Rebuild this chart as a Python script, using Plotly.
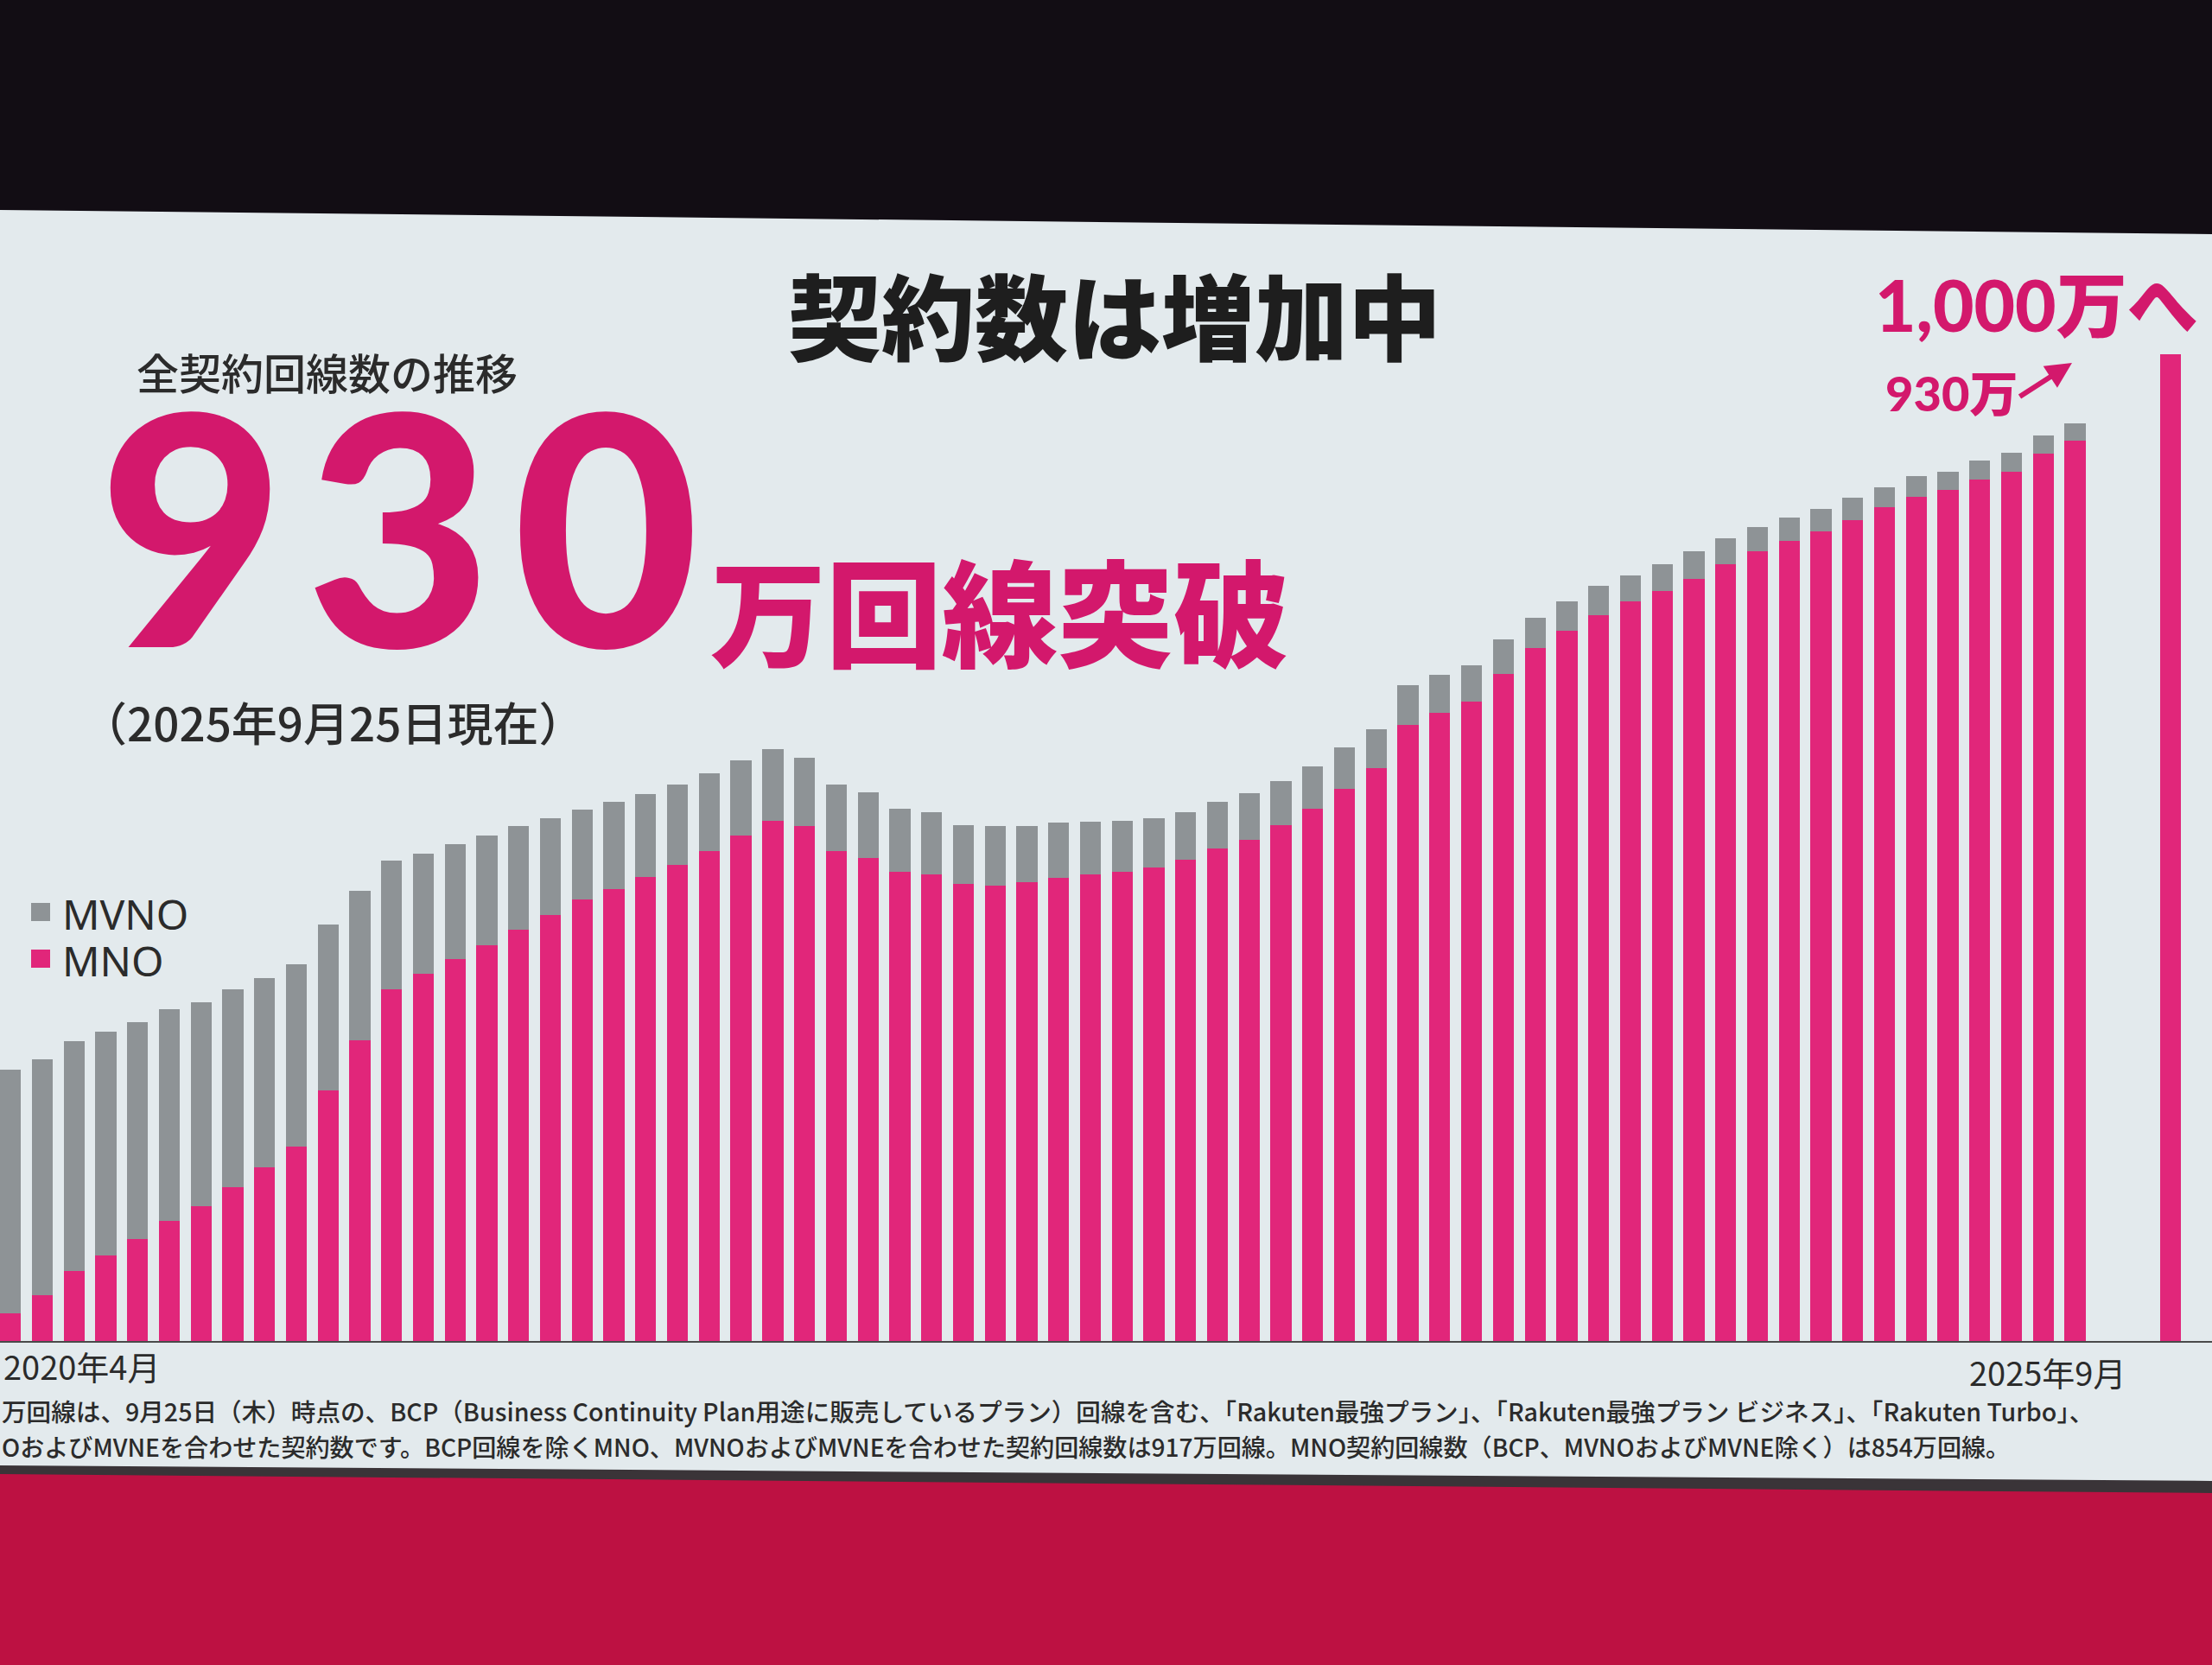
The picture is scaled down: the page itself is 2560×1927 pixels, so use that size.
import plotly.graph_objects as go
import pandas as pd

# ---------------- data (万回線) ----------------
months = [f"{p.year}年{p.month}月" for p in pd.period_range("2020-04", "2025-09", freq="M")]

mno = [28, 46, 71, 87, 103, 122, 137, 156, 176, 197,
       254, 305, 356, 372, 387, 401, 417, 432, 447, 458,
       470, 482, 496, 512, 527, 522, 496, 489, 475, 473,
       463, 461, 465, 469, 473, 475, 480, 488, 499, 508,
       523, 539, 559, 580, 624, 636, 648, 676, 702, 720,
       735, 749, 760, 772, 787, 800, 811, 820, 832, 845,
       855, 862, 873, 881, 899, 912]

mvno = [247, 239, 233, 226, 220, 214, 206, 200, 192, 185,
        168, 151, 131, 122, 116, 111, 105, 98, 91, 88,
        84, 82, 79, 76, 73, 69, 68, 67, 64, 63,
        60, 61, 57, 56, 53, 52, 50, 48, 47, 47,
        44, 43, 42, 40, 40, 39, 37, 35, 31, 29,
        30, 27, 27, 28, 26, 25, 23, 23, 22, 20,
        21, 19, 19, 19, 18, 18]

spacer_cats = ["_gap1", "_gap2"]
target_cat = ["目標"]
target_value = [1000]

category_order = months + spacer_cats + target_cat

# ---------------- styling ----------------
W, H = 2560, 1927
PINK = "#e1267a"
GRAY = "#8e9396"
TXT_PINK = "#d3186c"
DARK = "#2b2b2b"
SLIDE = "#e3eaed"

def px(x):
    return x / W

def py(y):
    return 1 - y / H

fig = go.Figure()

fig.add_trace(go.Bar(x=months, y=mno, name="MNO", marker=dict(color=PINK, line=dict(width=0))))
fig.add_trace(go.Bar(x=months, y=mvno, name="MVNO", marker=dict(color=GRAY, line=dict(width=0))))
fig.add_trace(go.Bar(x=target_cat, y=target_value, name="目標", marker=dict(color=PINK, line=dict(width=0))))

shapes = [
    # dark band under slide edge
    dict(type="path", xref="paper", yref="paper", layer="below",
         path=f"M 0 {py(1690)} L 1 {py(1712)} L 1 {py(1730)} L 0 {py(1708)} Z",
         fillcolor="#3a3438", line=dict(width=0)),
    # red stage
    dict(type="path", xref="paper", yref="paper", layer="below",
         path=f"M 0 {py(1706)} L 1 {py(1728)} L 1 0 L 0 0 Z",
         fillcolor="#bd1142", line=dict(width=0)),
    # slide
    dict(type="path", xref="paper", yref="paper", layer="below",
         path=f"M 0 {py(243)} L 1 {py(271)} L 1 {py(1714)} L 0 {py(1696)} Z",
         fillcolor=SLIDE, line=dict(width=0)),
    # legend swatches
    dict(type="rect", xref="paper", yref="paper", layer="above",
         x0=px(36), x1=px(58), y0=py(1066), y1=py(1045), fillcolor=GRAY, line=dict(width=0)),
    dict(type="rect", xref="paper", yref="paper", layer="above",
         x0=px(36), x1=px(58), y0=py(1120), y1=py(1099), fillcolor=PINK, line=dict(width=0)),
]

JP = "Noto Sans CJK JP"
NUM = "Lato, Noto Sans CJK JP"

ann = [
    dict(text="契約数は増加中", x=px(1290), y=py(362), xanchor="center", yanchor="middle",
         font=dict(family=JP, size=108, color="#1e1e1e", weight=900)),
    dict(text="全契約回線数の推移", x=px(378), y=py(430), xanchor="center", yanchor="middle",
         font=dict(family=JP, size=49, color=DARK, weight=500)),
    dict(text="<span style='letter-spacing:24px'>930</span>", x=px(112), y=py(605),
         xanchor="left", yanchor="middle",
         font=dict(family=NUM, size=372, color=TXT_PINK, weight=900)),
    dict(text="万回線突破", x=px(820), y=py(704), xanchor="left", yanchor="middle",
         font=dict(family=JP, size=134, color=TXT_PINK, weight=900)),
    dict(text="（2025年9月25日現在）", x=px(92), y=py(835), xanchor="left", yanchor="middle",
         font=dict(family=JP, size=53, color=DARK, weight=500)),
    dict(text="MVNO", x=px(70), y=py(1057), xanchor="left", yanchor="middle",
         font=dict(family="Noto Sans, " + JP, size=48, color=DARK)),
    dict(text="MNO", x=px(70), y=py(1111), xanchor="left", yanchor="middle",
         font=dict(family="Noto Sans, " + JP, size=48, color=DARK)),
    dict(text="1,000万へ", x=px(2357), y=py(352), xanchor="center", yanchor="middle",
         font=dict(family=NUM, size=82, color=TXT_PINK, weight=900)),
    dict(text="930万", x=px(2258), y=py(455), xanchor="center", yanchor="middle",
         font=dict(family=NUM, size=56, color=TXT_PINK, weight=900)),
    dict(text="", x=px(2398), y=py(420), xref="paper", yref="paper", showarrow=True,
         ax=-62, ay=40, arrowhead=2, arrowsize=1, arrowwidth=6, arrowcolor=TXT_PINK, standoff=0),
    dict(text="2020年4月", x=months[0], xref="x", y=py(1580), yref="paper", xanchor="left",
         yanchor="middle", xshift=-10,
         font=dict(family=JP, size=38, color=DARK)),
    dict(text="2025年9月", x=months[-1], xref="x", y=py(1587), yref="paper", xanchor="right",
         yanchor="middle", xshift=60,
         font=dict(family=JP, size=38, color=DARK)),
    dict(text="万回線は、9月25日（木）時点の、BCP（Business Continuity Plan用途に販売しているプラン）回線を含む、「Rakuten最強プラン」、「Rakuten最強プラン ビジネス」、「Rakuten Turbo」、",
         x=0, y=py(1632), xanchor="left", yanchor="middle",
         font=dict(family=JP, size=28.6, color=DARK, weight=500)),
    dict(text="OおよびMVNEを合わせた契約数です。BCP回線を除くMNO、MVNOおよびMVNEを合わせた契約回線数は917万回線。MNO契約回線数（BCP、MVNOおよびMVNE除く）は854万回線。",
         x=0, y=py(1673), xanchor="left", yanchor="middle",
         font=dict(family=JP, size=28.1, color=DARK, weight=500)),
]
for a in ann:
    a.setdefault("xref", "paper")
    a.setdefault("yref", "paper")
    a.setdefault("showarrow", False)

fig.update_layout(
    width=W, height=H,
    margin=dict(l=0, r=0, t=0, b=0),
    paper_bgcolor="#120d14",
    plot_bgcolor="rgba(0,0,0,0)",
    barmode="stack",
    bargap=0.34,
    showlegend=False,
    shapes=shapes,
    annotations=ann,
    xaxis=dict(type="category", categoryorder="array", categoryarray=category_order,
               range=[-0.33, 69.31], domain=[0, 1],
               showticklabels=False, ticks="", showgrid=False, zeroline=False,
               showline=True, linecolor="#4a4a4a", linewidth=2),
    yaxis=dict(range=[0, 1096], domain=[py(1552), py(300)],
               showticklabels=False, ticks="", showgrid=False, zeroline=False, showline=False),
)

fig.write_html(
    "out.html",
    config={"displayModeBar": False},
    post_script="document.body.style.margin='0';document.body.style.overflow='hidden';",
)
